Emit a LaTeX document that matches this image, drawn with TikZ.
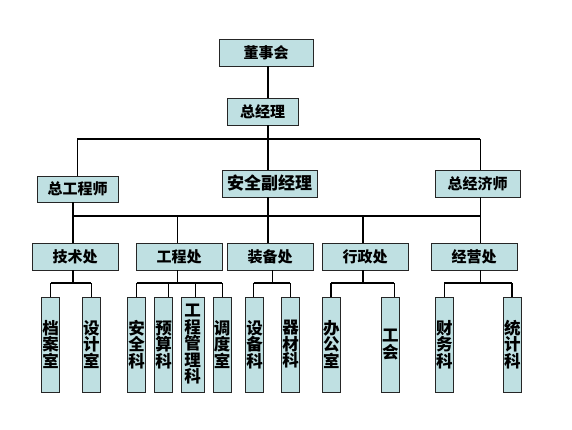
\documentclass[tikz,border=0pt]{standalone}
\usepackage{fontspec}
\setmainfont{Noto Sans CJK SC}
\definecolor{boxfill}{RGB}{191,224,226}
\newcommand\myvtight{\lineskiplimit=-20pt\relax\lineskip=0pt\relax}
\begin{document}
\begin{tikzpicture}[x=1pt,y=-1pt,
  box/.style={draw=black!85, line width=0.8pt, fill=boxfill, inner sep=0pt,
    font=\bfseries\fontsize{15}{17}\selectfont},
  vbox/.style={box, align=center, font=\bfseries\fontsize{16.5}{16.5}\selectfont\myvtight,
    minimum width=18pt, minimum height=95pt},
  thk/.style={line width=1.8pt},
  thn/.style={line width=1pt}]
\path[use as bounding box, fill=white] (0,0) rectangle (572,430);
% level 1-2
\node[box, minimum width=94pt, minimum height=27pt] (dsh) at (266,52.5) {董事会};
\node[box, minimum width=71pt, minimum height=27pt] (zjl) at (262.5,111.5) {总经理};
\node[box, minimum width=81pt, minimum height=26pt] (zgcs) at (77.5,189) {总工程师};
\node[box, minimum width=95pt, minimum height=27pt, font=\bfseries\fontsize{17}{19}\selectfont] (aqf) at (269.5,183.5) {安全副经理};
\node[box, minimum width=85pt, minimum height=27pt] (zjjs) at (477.5,183.5) {总经济师};
% departments
\node[box, minimum width=86pt, minimum height=27pt] (jsc) at (75,256.5) {技术处};
\node[box, minimum width=86pt, minimum height=27pt] (gcc) at (179,256.5) {工程处};
\node[box, minimum width=86pt, minimum height=27pt] (zbc) at (270,256.5) {装备处};
\node[box, minimum width=86pt, minimum height=27pt] (xzc) at (365,256.5) {行政处};
\node[box, minimum width=86pt, minimum height=27pt] (jyc) at (474,256.5) {经营处};
% sections
\node[vbox] (da) at (50.5,344.5) {档\\案\\室};
\node[vbox] (sj) at (91.3,344.5) {设\\计\\室};
\node[vbox] (aq) at (136.5,344.5) {安\\全\\科};
\node[vbox] (ys) at (163.5,344.5) {预\\算\\科};
\node[vbox, minimum width=23pt] (gcgl) at (192.7,344.5) {工\\程\\管\\理\\科};
\node[vbox] (dd) at (222.2,344.5) {调\\度\\室};
\node[vbox] (sb) at (254.5,344.5) {设\\备\\科};
\node[vbox] (qc) at (290.5,344.5) {器\\材\\科};
\node[vbox] (bgs) at (331.3,344.5) {办\\公\\室};
\node[vbox] (gh) at (390.3,344.5) {工\\会};
\node[vbox] (cw) at (444.3,344.5) {财\\务\\科};
\node[vbox] (tj) at (512.3,344.5) {统\\计\\科};
% helper coordinates
\coordinate (c1) at (268,0);
\coordinate (b1) at (0,139);
\coordinate (b2) at (0,216);
\coordinate (y3) at (0,283);
\coordinate (r1) at ([xshift=2.5pt]zjjs.north);
\coordinate (L) at ([xshift=-4.5pt]zgcs.south);
% upper connectors
\draw[thk] (dsh.south -| c1) -- (zjl.north -| c1);
\draw[thk] (zjl.south -| c1) -- (aqf.north -| c1);
\draw[thk] (zgcs.north) -- (zgcs.north |- b1) -- (r1 |- b1);
\draw[thn] (r1 |- b1) -- (r1);
% lower bus
\draw[thk] (L) -- (L |- jsc.north);
\draw[thk] (L |- b2) -- (r1 |- b2);
\draw[thk] (aqf.south -| c1) -- (zbc.north -| c1);
\draw[thn] (r1 |- zjjs.south) -- (r1 |- jyc.north);
\coordinate (vg) at ([xshift=-2pt]gcc.north);
\draw[thn] (vg |- b2) -- (vg);
\coordinate (vx) at ([xshift=-2.3pt]xzc.north);
\draw[thk] (vx |- b2) -- (vx);
% department verticals
\coordinate (djs) at ([xshift=-2pt]jsc.south);
\coordinate (dgc) at ([xshift=-2pt]gcc.south);
\coordinate (dzb) at ([xshift=2.3pt]zbc.south);
\coordinate (dxz) at ([xshift=-2.3pt]xzc.south);
\coordinate (djy) at ([xshift=6.3pt]jyc.south);
\draw[thk] (djs) -- (djs |- y3);
\draw[thn] (dgc) -- (dgc |- y3);
\draw[thn] (dzb) -- (dzb |- y3);
\draw[thk] (dxz) -- (dxz |- y3);
\draw[thn] (djy) -- (djy |- y3);
% drops
\coordinate (pda) at (da.north);
\coordinate (psj) at (sj.north);
\coordinate (paq) at (aq.north);
\coordinate (pys) at ([xshift=5pt]ys.north);
\coordinate (pgcgl) at ([xshift=3pt]gcgl.north);
\coordinate (pdd) at (dd.north);
\coordinate (psb) at ([xshift=-1pt]sb.north);
\coordinate (pqc) at ([xshift=-0.5pt]qc.north);
\coordinate (pbgs) at (bgs.north);
\coordinate (pgh) at ([xshift=4pt]gh.north);
\coordinate (pcw) at (cw.north);
\coordinate (ptj) at ([xshift=-0.5pt]tj.north);
\draw[thn] (pda) -- (pda |- y3);
\draw[thn] (psj) -- (psj |- y3);
\draw[thn] (paq) -- (paq |- y3);
\draw[thn] (pys) -- (pys |- y3);
\draw[thn] (pgcgl) -- (pgcgl |- y3);
\draw[thn] (pdd) -- (pdd |- y3);
\draw[thk] (psb) -- (psb |- y3);
\draw[thn] (pqc) -- (pqc |- y3);
\draw[thk] (pbgs) -- (pbgs |- y3);
\draw[thn] (pgh) -- (pgh |- y3);
\draw[thn] (pcw) -- (pcw |- y3);
\draw[thk] (ptj) -- (ptj |- y3);
% section buses
\draw[thk] (pda |- y3) -- (psj |- y3);
\draw[thk] (paq |- y3) -- (pdd |- y3);
\draw[thk] (psb |- y3) -- (pqc |- y3);
\draw[thk] (pbgs |- y3) -- (pgh |- y3);
\draw[thk] (pcw |- y3) -- (ptj |- y3);
\end{tikzpicture}
\end{document}
